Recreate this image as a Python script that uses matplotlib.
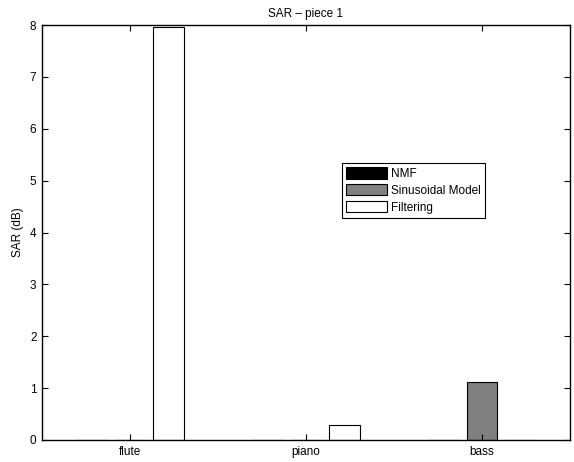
import matplotlib
matplotlib.use("Agg")
import matplotlib.pyplot as plt
import numpy as np

plt.rcParams['font.family'] = ['Liberation Sans', 'DejaVu Sans']

categories = ['flute', 'piano', 'bass']
series_names = ['NMF', 'Sinusoidal Model', 'Filtering']
nmf = [0.0, 0.0, 0.0]
sinusoidal = [0.0, 0.0, 1.11]
filtering = [7.96, 0.29, 0.0]
colors = ['#000000', '#808080', '#ffffff']

fig = plt.figure(figsize=(5.74, 4.62), dpi=100)
ax = fig.add_axes([42/574, 22/462, 528/574, 415/462])

x = np.arange(1, len(categories) + 1)
w = 0.176
offsets = [-0.22, 0.0, 0.22]
for vals, off, c, name in zip([nmf, sinusoidal, filtering], offsets, colors, series_names):
    ax.bar(x + off, vals, width=w, color=c, edgecolor='black', linewidth=0.8, label=name)

ax.set_xlim(0.5, 3.5)
ax.set_ylim(0, 8)
ax.set_xticks(x)
ax.set_xticklabels(categories)
ax.set_yticks(range(0, 9))
ax.tick_params(direction='in', top=True, right=True, labelsize=8.5, length=4, width=0.8, pad=4)
for s in ax.spines.values():
    s.set_linewidth(1.0)
ax.set_ylabel('SAR (dB)', fontsize=8.5)
ax.set_title('SAR \u2013 piece 1', fontsize=8.5, pad=6)

leg = ax.legend(loc='upper left', bbox_to_anchor=(0.568, 0.667), fontsize=8.5,
                frameon=True, fancybox=False, edgecolor='black', framealpha=1,
                handlelength=3.5, handleheight=1.1, borderpad=0.35, labelspacing=0.35,
                handletextpad=0.35, borderaxespad=0)
leg.get_frame().set_linewidth(0.8)

fig.savefig('out.png', dpi=100)
